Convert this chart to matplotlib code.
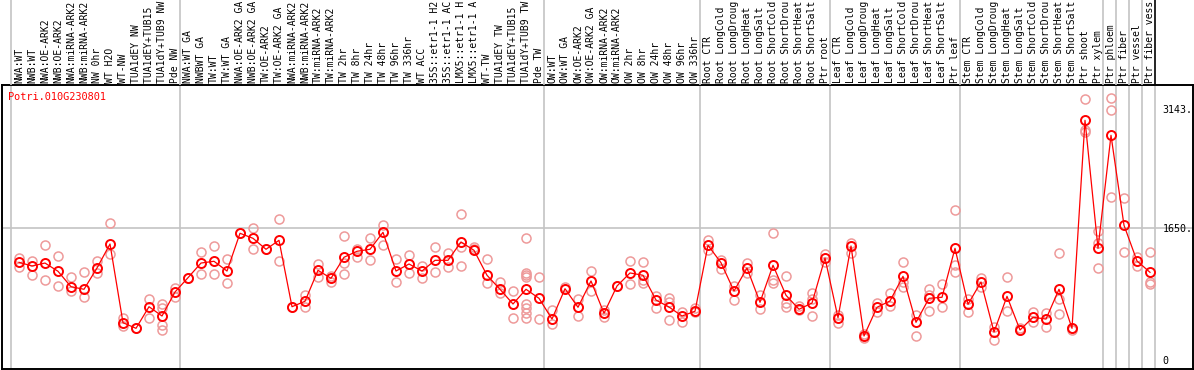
import matplotlib
matplotlib.use("Agg")
import matplotlib.pyplot as plt
import matplotlib.transforms as mtransforms

# sample names (header, rotated; the chart shows the first 14 characters)
labels = [
    "NWA:WT", "NWB:WT", "NWA:OE-ARK2", "NWB:OE-ARK2", "NWA:miRNA-ARK2", "NWB:miRNA-ARK2",
    "NW 0hr", "WT H2O", "WT-NW", "TUA1dEY NW", "TUA1dEY+TUB15 NW", "TUA1dY+TUB9 NW", "Pde NW",
    "NWA:WT GA", "NWBWT GA", "TW:WT", "TW:WT GA", "NWA:OE-ARK2 GA", "NWB:OE-ARK2 GA",
    "TW:OE-ARK2", "TW:OE-ARK2 GA", "NWA:miRNA-ARK2 GA", "NWB:miRNA-ARK2 GA", "TW:miRNA-ARK2",
    "TW:miRNA-ARK2", "TW 2hr", "TW 8hr", "TW 24hr", "TW 48hr", "TW 96hr", "TW 336hr", "WT ACC",
    "35S::etr1-1 H2O", "35S::etr1-1 ACC", "LMX5::etr1-1 H2O", "LMX5::etr1-1 ACC", "WT-TW",
    "TUA1dEY TW", "TUA1dEY+TUB15 TW", "TUA1dY+TUB9 TW", "Pde TW",
    "OW:WT", "OW:WT GA", "OW:OE-ARK2", "OW:OE-ARK2 GA", "OW:miRNA-ARK2", "OW:miRNA-ARK2",
    "OW 2hr", "OW 8hr", "OW 24hr", "OW 48hr", "OW 96hr", "OW 336hr",
    "Root CTR", "Root LongCold", "Root LongDrought", "Root LongHeat", "Root LongSalt",
    "Root ShortCold", "Root ShortDrought", "Root ShortHeat", "Root ShortSalt", "Ptr root",
    "Leaf CTR", "Leaf LongCold", "Leaf LongDrought", "Leaf LongHeat", "Leaf LongSalt",
    "Leaf ShortCold", "Leaf ShortDrought", "Leaf ShortHeat", "Leaf ShortSalt", "Ptr leaf",
    "Stem CTR", "Stem LongCold", "Stem LongDrought", "Stem LongHeat", "Stem LongSalt",
    "Stem ShortCold", "Stem ShortDrought", "Stem ShortHeat", "Stem ShortSalt", "Ptr shoot",
    "Ptr xylem", "Ptr phloem", "Ptr fiber", "Ptr vessel", "Ptr fiber vessel",
]

# mean expression per sample
means = [
    1221, 1175, 1212, 1109, 916, 884, 1150, 1450, 466, 396, 666, 550, 850,
    1029, 1212, 1234, 1112, 1584, 1521, 1384, 1496, 666, 734, 1121, 1021, 1284, 1359, 1384,
    1596, 1112, 1200, 1112, 1246, 1246, 1475, 1371, 1059, 884, 700, 884, 771,
    512, 891, 659, 988, 584, 925, 1088, 1059, 750, 662, 550, 609,
    1434, 1216, 862, 1150, 721, 1184, 809, 634, 712, 1275,
    529, 1425, 300, 659, 738, 1046, 471, 771, 784, 1396,
    696, 975, 350, 796, 375, 534, 512, 884, 396, 2996, 1396,
    2809, 1684, 1238, 1096,
]

# individual replicates per sample
reps = [
    [1271, 1166], [1238, 1059], [1434, 996], [1300, 921], [1034, 862], [1096, 784],
    [1238, 1084], [1709, 1325], [521, 425], [400], [759, 521], [696, 646, 438, 375],
    [896, 791], [1029], [1346, 1075], [1425, 1075], [1259, 959], [1584], [1646, 1384],
    [1384], [1762, 1238], [666], [812, 666], [1200, 1041], [1050, 979], [1550, 1216, 1075],
    [1384, 1291], [1521, 1250], [1688, 1438], [1259, 975], [1312, 1084], [1179, 1029],
    [1409, 1100], [1341, 1166], [1825, 1412, 1171], [1412, 1384], [1259, 959], [979, 841],
    [866, 525], [1525, 1091, 1062, 1034, 700, 646, 584, 521], [1034, 512],
    [625, 450], [916], [762, 550], [1112, 862], [625, 534], [925], [1238, 950],
    [1229, 1000, 959], [800, 646], [771, 729, 500], [604, 479], [646, 604],
    [1500, 1375], [1250, 1141], [929, 750], [1216, 1091], [812, 638], [1584, 1000, 959],
    [1050, 709, 659], [675, 625], [834, 766, 546], [1325, 1225],
    [562, 459], [1459, 1341], [321, 271], [716, 604], [834, 675], [1229, 979, 916],
    [562, 296], [884, 812, 612], [950, 666], [1871, 1188, 1104],
    [759, 596], [1025, 909], [416, 254], [1034, 616], [400, 375], [596, 479], [591, 409],
    [1334, 759, 571], [396, 375], [3262, 2875, 2846], [1612, 1459, 1146],
    [3279, 3125, 2041], [2021, 1354], [1291, 1175], [1354, 979, 946],
]

# group boundaries (sample index where a new group starts)
group_starts = [0, 13, 41, 53, 63, 73, 84, 85, 86, 87, 88]

ytick_vals = [0, 1650, 3143]
ytick_text = ["0", "1650.", "3143."]
title = "Potri.010G230801"

W, H = 1194, 370
mono = "DejaVu Sans Mono"
grey = "#c4c4c4"

fig = plt.figure(figsize=(W / 100, H / 100), dpi=100)

# pixel geometry: sample i sits at x = 19 + 13*i, value 0 at y=360, 1650 at y=228
xl = ((2 - 19) / 13, (1193 - 19) / 13)
ax = fig.add_axes([2 / W, 1 / H, (1193 - 2) / W, (369 - 85) / H])
ax.set_xlim(*xl)
ax.set_ylim((360 - 369) * 12.5, (360 - 85) * 12.5)

top = fig.add_axes([2 / W, (370 - 85) / H, (1193 - 2) / W, 85 / H])
top.set_xlim(*xl)
top.set_ylim(0, 1)
top.axis("off")

for s in ax.spines.values():
    s.set_color("black")
    s.set_linewidth(1.4)

# separators
for b in group_starts:
    ax.axvline(b - 0.6, color=grey, lw=1.2, zorder=1)
    if b == 88:
        top.axvline(b - 0.6, color="black", lw=1.2)
    else:
        top.axvline(b - 0.6, color=grey, lw=1.2)
ax.axhline(1650, color=grey, lw=1.2, zorder=1)

# header labels
tr = mtransforms.blended_transform_factory(top.transData, top.transAxes)
for i, lab in enumerate(labels):
    top.text(i, 2 / 85, lab[:14], rotation=90, ha="center", va="bottom",
             fontsize=7.0, family=mono, transform=tr, clip_on=False)

# replicates
for i, r in enumerate(reps):
    ax.plot([i] * len(r), r, "o", ms=6.5, mfc="none", mec="#ee9a9a", mew=1.1,
            linestyle="none", zorder=2)

# mean line
ax.plot(range(len(means)), means, "-", color="red", lw=0.9, marker="o", ms=6.5,
        mfc="none", mec="red", mew=1.4, zorder=3)

ax.set_xticks([])
ax.yaxis.tick_right()
ax.set_yticks(ytick_vals)
ax.set_yticklabels(ytick_text, family=mono, fontsize=7.2)
ax.tick_params(axis="y", length=0, pad=-22)
for t in ax.get_yticklabels():
    t.set_horizontalalignment("left")

fig.text(8 / W, 1 - 97 / H, title, color="red", family=mono, fontsize=7.4, va="center")

fig.savefig("out.png", dpi=100)
